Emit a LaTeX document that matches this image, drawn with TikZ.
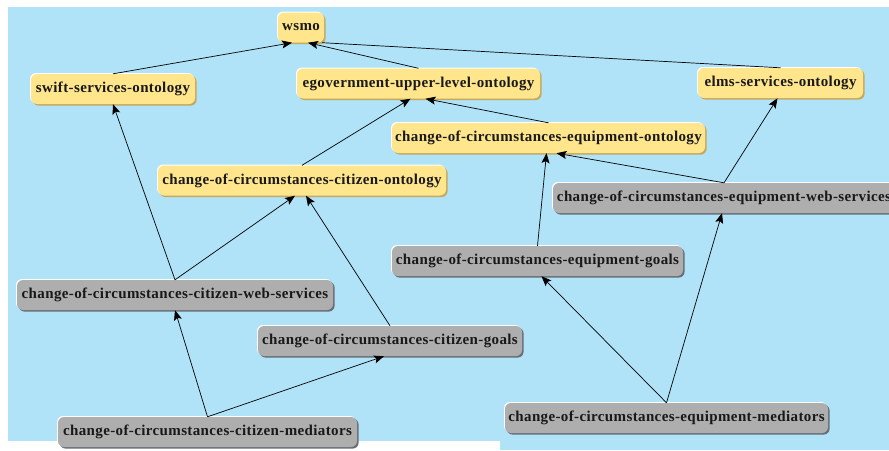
\documentclass[tikz,border=0pt]{standalone}
\usepackage{fontspec}
\setmainfont{Liberation Serif}
\newfontfamily\lblfont[LetterSpace=2.5]{Liberation Serif}
\usetikzlibrary{arrows.meta,shadows}
\definecolor{bgblue}{RGB}{176,226,248}
\definecolor{nodeY}{RGB}{255,230,140}
\definecolor{nodeYd}{RGB}{196,168,92}
\definecolor{nodeG}{RGB}{174,174,174}
\definecolor{nodeGd}{RGB}{104,110,118}
\tikzset{
  box/.style={rounded corners=6pt, minimum height=30pt, inner sep=0pt,
    font=\lblfont\bfseries\fontsize{15}{18}\selectfont, text=black!90,
    general shadow={shadow xshift=-1pt, shadow yshift=1pt, fill=white}},
  yel/.style={box, fill=nodeY, general shadow={shadow xshift=1.6pt, shadow yshift=-1.6pt, fill=nodeYd}},
  gry/.style={box, fill=nodeG, general shadow={shadow xshift=1.6pt, shadow yshift=-1.6pt, fill=nodeGd}},
  arr/.style={-{Stealth[length=10pt,width=8pt,inset=2pt]}, line width=0.7pt, black},
  plain/.style={line width=0.7pt, black}
}
\begin{document}
\begin{tikzpicture}[x=1pt,y=-1pt]
\useasboundingbox (0,0) rectangle (889,450);
\fill[white] (0,0) rectangle (889,450);
\fill[bgblue] (8,7) rectangle (889,450);
\fill[white] (8,441) rectangle (500,450);

\begin{scope}
\clip (0,0) rectangle (889,450);
% nodes
\node[yel, minimum width=46pt] (wsmo) at (301,27.5) {wsmo};
\node[yel, minimum width=164pt] (swift) at (113,89) {swift-services-ontology};
\node[yel, minimum width=243pt] (egov) at (418.5,83.5) {egovernment-upper-level-ontology};
\node[yel, minimum width=165pt] (elms) at (780.5,83) {elms-services-ontology};
\node[yel, minimum width=313pt] (eqont) at (548.5,138) {change-of-circumstances-equipment-ontology};
\node[yel, minimum width=288pt] (citont) at (302,180.5) {change-of-circumstances-citizen-ontology};
\node[gry, minimum width=342pt] (eqws) at (724,198) {change-of-circumstances-equipment-web-services};
\node[gry, minimum width=291pt] (eqgoals) at (537.5,261) {change-of-circumstances-equipment-goals};
\node[gry, minimum width=316pt] (cws) at (175,295) {change-of-circumstances-citizen-web-services};
\node[gry, minimum width=264pt] (citgoals) at (390,341) {change-of-circumstances-citizen-goals};
\node[gry, minimum width=299pt] (citmed) at (207.5,432) {change-of-circumstances-citizen-mediators};
\node[gry, minimum width=323pt] (eqmed) at (666.5,418) {change-of-circumstances-equipment-mediators};
\end{scope}

% connectors
\draw[arr] (swift.north) -- ([xshift=-9pt]wsmo.south);
\draw[arr] (egov.north) -- ([xshift=7pt]wsmo.south);
\draw[plain] (elms.north) -- ([xshift=-2pt]wsmo.south east);
\draw[arr] (eqont.north) -- ([xshift=7pt]egov.south);
\draw[arr] (citont.north) -- ([xshift=-8pt]egov.south);
\draw[arr] (cws.north) -- (swift.south);
\draw[arr] (cws.north) -- ([xshift=-7pt]citont.south);
\draw[arr] (citgoals.north) -- ([xshift=4pt]citont.south);
\draw[arr] (citmed.north) -- (cws.south);
\draw[arr] (citmed.north) -- ([xshift=-6pt]citgoals.south);
\draw[arr] (eqgoals.north) -- ([xshift=-2pt]eqont.south);
\draw[arr] (eqws.north) -- ([xshift=8pt]eqont.south);
\draw[arr] (eqws.north) -- ([xshift=-3pt]elms.south);
\draw[arr] (eqmed.north) -- ([xshift=4pt]eqgoals.south);
\draw[arr] (eqmed.north) -- ([xshift=-2pt]eqws.south);
\end{tikzpicture}
\end{document}
